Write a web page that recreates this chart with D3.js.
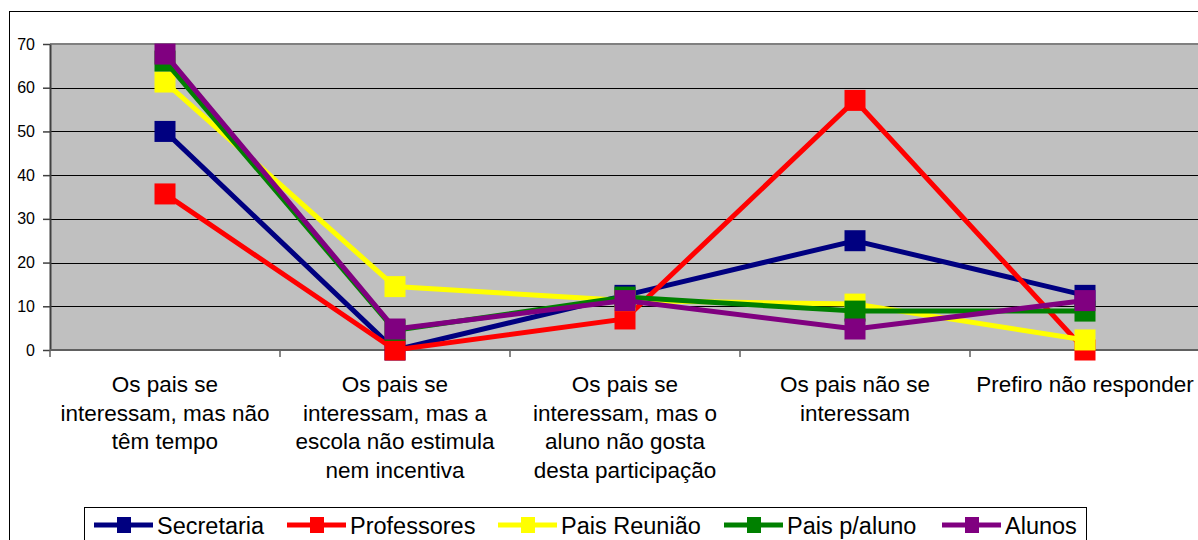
<!DOCTYPE html>
<html>
<head>
<meta charset="utf-8">
<script src="https://cdn.jsdelivr.net/npm/d3@7"></script>
<style>
  body { margin: 0; background: #fff; }
  svg { display: block; font-family: "Liberation Sans", Arial, sans-serif; }
</style>
</head>
<body>
<div id="chart"></div>
<script>
var width = 1198;
var height = 540;

// categories, one array of lines per label
var categories = [
  ["Os pais se", "interessam, mas não", "têm tempo"],
  ["Os pais se", "interessam, mas a", "escola não estimula", "nem incentiva"],
  ["Os pais se", "interessam, mas o", "aluno não gosta", "desta participação"],
  ["Os pais não se", "interessam"],
  ["Prefiro não responder"]
];
var seriesNames = ["Secretaria", "Professores", "Pais Reunião", "Pais p/aluno", "Alunos"];
var seriesColors = ["#000080", "#ff0000", "#ffff00", "#008000", "#800080"];
var secretaria = [50, 0, 12.5, 25, 12.5];
var professores = [35.7, 0, 7.1, 57.1, 0];
var paisReuniao = [61.3, 14.5, 11.3, 10.5, 2.3];
var paisAluno = [66.1, 4.5, 12.1, 8.9, 8.9];
var alunos = [67.7, 4.8, 11.3, 4.8, 11.3];
var yTicks = [0, 10, 20, 30, 40, 50, 60, 70];

var allSeries = [secretaria, professores, paisReuniao, paisAluno, alunos];
var plot = {left: 50, right: 1200, top: 44, bottom: 350};

var svg = d3.select("#chart")
  .append("svg")
    .attr("width", width)
    .attr("height", height);

// outer chart frame
svg.append("rect")
  .attr("x", 9.5).attr("y", 11.5)
  .attr("width", 1300).attr("height", 600)
  .attr("fill", "#fff")
  .attr("stroke", "#000")
  .attr("stroke-width", 1);

var x = d3.scaleBand()
  .domain(d3.range(categories.length))
  .range([plot.left, plot.right])
  .padding(0);

var y = d3.scaleLinear()
  .domain([0, 70])
  .range([plot.bottom, plot.top]);

function cx(i) { return x(i) + x.bandwidth() / 2; }

// plot background
svg.append("rect")
  .attr("x", plot.left).attr("y", plot.top)
  .attr("width", plot.right - plot.left).attr("height", plot.bottom - plot.top)
  .attr("fill", "#c0c0c0");

// gridlines
svg.selectAll(".grid")
  .data(yTicks.filter(function (t) { return t > 0 && t < 70; }))
  .enter()
    .append("line")
      .attr("x1", plot.left).attr("x2", plot.right)
      .attr("y1", function (d) { return Math.round(y(d)) + 0.5; })
      .attr("y2", function (d) { return Math.round(y(d)) + 0.5; })
      .attr("stroke", "#000")
      .attr("stroke-width", 1);

// top border of plot
svg.append("line")
  .attr("x1", plot.left).attr("x2", plot.right)
  .attr("y1", plot.top).attr("y2", plot.top)
  .attr("stroke", "#808080").attr("stroke-width", 2);

// y axis
var yAxis = svg.append("g")
  .attr("transform", "translate(" + plot.left + ",0)")
  .call(d3.axisLeft(y).tickValues(yTicks).tickSize(7).tickPadding(8).tickSizeOuter(0));
yAxis.select(".domain").attr("stroke", "#404040").attr("stroke-width", 2);
yAxis.selectAll(".tick line").attr("stroke", "#404040").attr("stroke-width", 1.5);
yAxis.selectAll(".tick text")
  .attr("font-size", 16)
  .attr("font-family", "Liberation Sans, Arial, sans-serif")
  .attr("fill", "#000");

// x axis with ticks at category boundaries
var xAxis = svg.append("g")
  .attr("transform", "translate(0," + plot.bottom + ")");
xAxis.append("line")
  .attr("x1", plot.left).attr("x2", plot.right)
  .attr("y1", 0).attr("y2", 0)
  .attr("stroke", "#606060").attr("stroke-width", 2);
xAxis.selectAll(".xtick")
  .data(d3.range(categories.length + 1))
  .enter()
    .append("line")
      .attr("x1", function (d) { return d < categories.length ? x(d) : plot.right; })
      .attr("x2", function (d) { return d < categories.length ? x(d) : plot.right; })
      .attr("y1", 0).attr("y2", 7)
      .attr("stroke", "#606060").attr("stroke-width", 1.5);

// category labels
var labels = svg.selectAll(".xlabel")
  .data(categories)
  .enter()
    .append("text")
      .attr("text-anchor", "middle")
      .attr("font-size", 22.5)
      .attr("fill", "#000");
labels.each(function (lines, i) {
  d3.select(this).selectAll("tspan")
    .data(lines)
    .enter()
      .append("tspan")
        .attr("x", cx(i))
        .attr("y", function (d, j) { return 392 + j * 28.6; })
        .text(function (d) { return d; });
});

// series lines and markers
var line = d3.line()
  .x(function (d, i) { return cx(i); })
  .y(function (d) { return y(d); });

var ms = 21;
allSeries.forEach(function (values, s) {
  svg.append("path")
    .datum(values)
    .attr("d", line)
    .attr("fill", "none")
    .attr("stroke", seriesColors[s])
    .attr("stroke-width", 5);
  svg.selectAll(".m" + s)
    .data(values)
    .enter()
      .append("rect")
        .attr("x", function (d, i) { return cx(i) - ms / 2; })
        .attr("y", function (d) { return y(d) - ms / 2; })
        .attr("width", ms).attr("height", ms)
        .attr("fill", seriesColors[s]);
});

// legend
var legend = svg.append("g");
legend.append("rect")
  .attr("x", 84.5).attr("y", 507.5)
  .attr("width", 1002).attr("height", 60)
  .attr("fill", "#fff")
  .attr("stroke", "#000")
  .attr("stroke-width", 1);

var legendX = [94, 287, 498, 724, 942];
seriesNames.forEach(function (name, s) {
  var lx = legendX[s];
  legend.append("line")
    .attr("x1", lx).attr("x2", lx + 59)
    .attr("y1", 525).attr("y2", 525)
    .attr("stroke", seriesColors[s])
    .attr("stroke-width", 5);
  legend.append("rect")
    .attr("x", lx + 23).attr("y", 517)
    .attr("width", 14).attr("height", 16)
    .attr("fill", seriesColors[s]);
  legend.append("text")
    .attr("x", lx + 63)
    .attr("y", 534)
    .attr("font-size", 23.5)
    .attr("fill", "#000")
    .text(name);
});
</script>
</body>
</html>
